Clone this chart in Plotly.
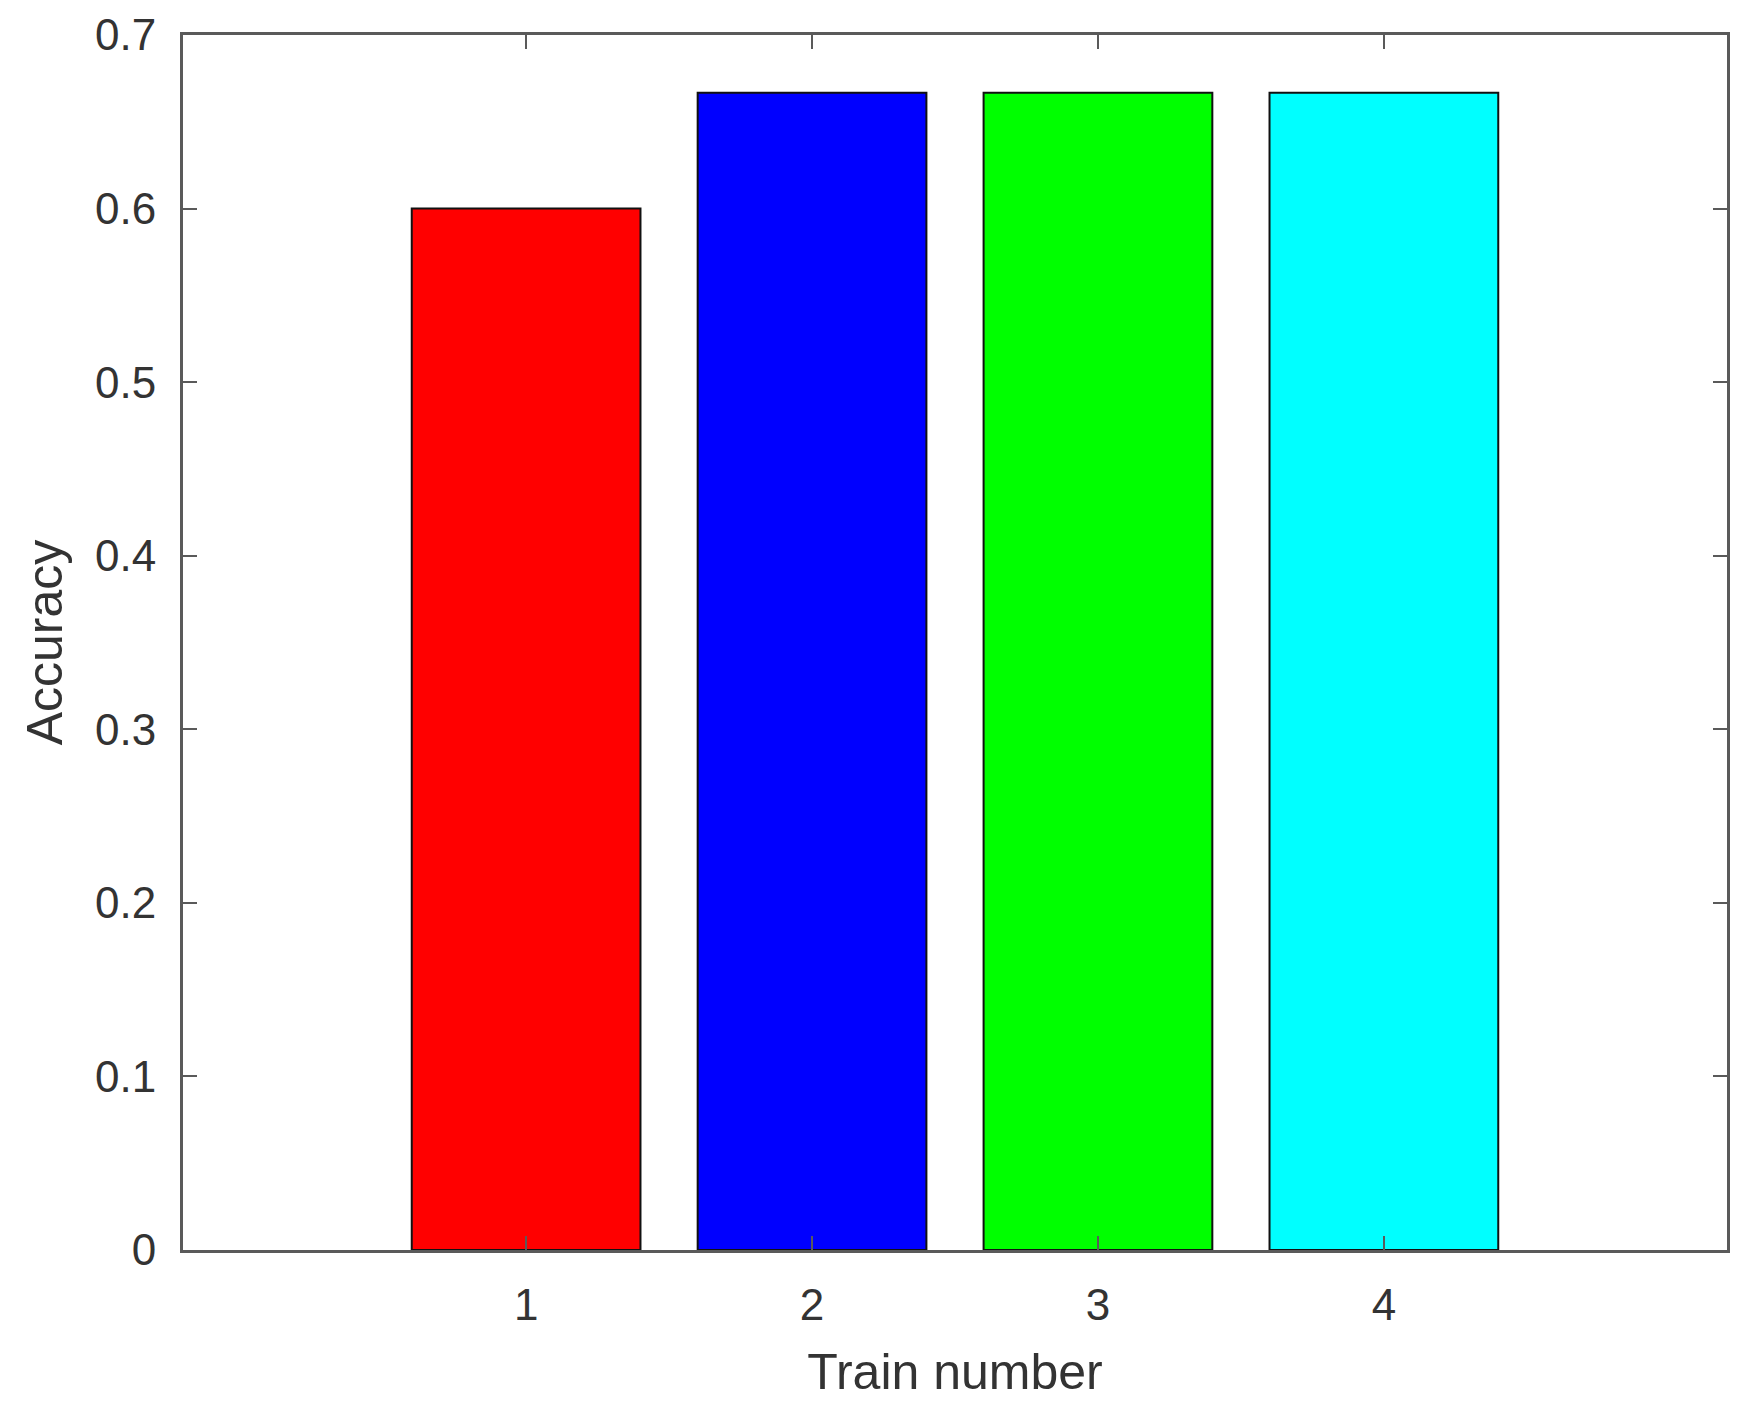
import plotly.graph_objects as go

train_numbers = [1, 2, 3, 4]
accuracy = [0.6, 0.6667, 0.6667, 0.6667]
bar_colors = ["#ff0000", "#0000ff", "#00ff00", "#00ffff"]
y_ticks = [0, 0.1, 0.2, 0.3, 0.4, 0.5, 0.6, 0.7]
y_tick_labels = ["0", "0.1", "0.2", "0.3", "0.4", "0.5", "0.6", "0.7"]

font_family = "Liberation Sans, Arial, sans-serif"
axis_color = "#5a5a5a"
text_color = "#333333"

fig = go.Figure(
    go.Bar(
        x=train_numbers,
        y=accuracy,
        width=0.8,
        marker=dict(color=bar_colors, line=dict(color="#111111", width=2)),
    )
)

fig.update_layout(
    width=1736,
    height=1395,
    margin=dict(l=175, r=17, t=27, b=153),
    plot_bgcolor="white",
    paper_bgcolor="white",
    showlegend=False,
    font=dict(family=font_family, color=text_color, size=44),
)

fig.update_xaxes(
    range=[-0.2, 5.2],
    tickvals=train_numbers,
    ticktext=[str(v) for v in train_numbers],
    ticks="inside",
    ticklen=14,
    tickwidth=2,
    tickcolor=axis_color,
    showline=True,
    linecolor=axis_color,
    linewidth=3,
    mirror="allticks",
    showgrid=False,
    zeroline=False,
    automargin=False,
    tickfont=dict(size=44, color=text_color),
    ticklabelstandoff=14,
    title=dict(text="Train number", font=dict(size=50, color=text_color), standoff=27),
)

fig.update_yaxes(
    range=[0, 0.7],
    tickvals=y_ticks,
    ticktext=y_tick_labels,
    ticks="inside",
    ticklen=14,
    tickwidth=2,
    tickcolor=axis_color,
    showline=True,
    linecolor=axis_color,
    linewidth=3,
    mirror="allticks",
    showgrid=False,
    zeroline=False,
    automargin=False,
    tickfont=dict(size=44, color=text_color),
    ticklabelstandoff=15,
    title=dict(text="Accuracy", font=dict(size=50, color=text_color), standoff=17),
)

fig.write_html("out.html")
